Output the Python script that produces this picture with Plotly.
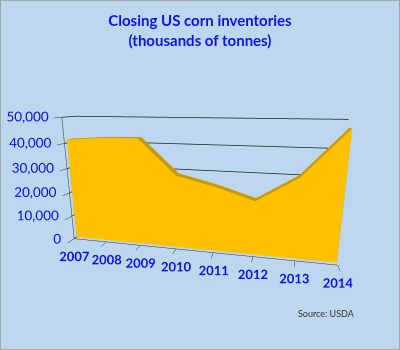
import plotly.graph_objects as go

years = [2007, 2008, 2009, 2010, 2011, 2012, 2013, 2014]
stocks = [41300, 42300, 42600, 29000, 25500, 21000, 30500, 47500]
z_ticks = [0, 10000, 20000, 30000, 40000, 50000]
z_tick_text = ["0", "10,000", "20,000", "30,000", "40,000", "50,000"]
year_text = [str(y) for y in years]
title_text = "Closing US corn inventories<br>(thousands of tonnes)"
source_text = "Source: USDA"

Y0, Y1 = 0.2, 0.65  # slab depth (front, back)

xs, ys, zs = [], [], []
for yr, v in zip(years, stocks):
    xs += [yr, yr, yr, yr]
    ys += [Y0, Y0, Y1, Y1]
    zs += [0, v, 0, v]
I, J, K, C = [], [], [], []
FRONT, TOP, SIDE = "#FFC000", "#C89800", "#B88A00"
n = len(years)
for i in range(n - 1):
    a = 4 * i
    b = 4 * (i + 1)
    I += [a, a + 1]; J += [b, b]; K += [a + 1, b + 1]; C += [FRONT, FRONT]
    I += [a + 1, a + 3]; J += [b + 1, b + 1]; K += [a + 3, b + 3]; C += [TOP, TOP]
for i in (0, n - 1):
    a = 4 * i
    I += [a, a + 1]; J += [a + 2, a + 2]; K += [a + 1, a + 3]; C += [SIDE, SIDE]

blue = "#1010F0"
mesh = go.Mesh3d(
    x=xs, y=ys, z=zs, i=I, j=J, k=K, facecolor=C, flatshading=True,
    lighting=dict(ambient=1, diffuse=0, specular=0, roughness=1, fresnel=0),
    hoverinfo="skip", showscale=False,
)
xlab = go.Scatter3d(
    x=years, y=[0] * len(years), z=[0] * len(years), mode="text",
    text=year_text, textposition="bottom center",
    textfont=dict(color=blue, size=13, family="Lato", weight="bold"),
    hoverinfo="skip", showlegend=False,
)
zlab = go.Scatter3d(
    x=[years[0]] * len(z_ticks), y=[0] * len(z_ticks), z=z_ticks, mode="text",
    text=z_tick_text, textposition="middle left",
    textfont=dict(color=blue, size=13.5, family="Lato"),
    hoverinfo="skip", showlegend=False,
)

fig = go.Figure([mesh, xlab, zlab])
fig.update_layout(
    width=400, height=350,
    paper_bgcolor="#BDD7EE",
    margin=dict(l=0, r=0, t=0, b=0),
    title=dict(text=title_text, x=0.5, y=0.925, xanchor="center", yanchor="middle",
               font=dict(family="Lato", size=15, color=blue, weight="bold")),
    font=dict(family="Lato"),
    scene=dict(
        domain=dict(x=[0.0, 1.0], y=[0.08, 0.86]),
        aspectmode="manual",
        aspectratio=dict(x=2.6, y=0.22, z=1.25),
        camera=dict(eye=dict(x=0.7, y=-2.95, z=0.78), center=dict(x=0.03, y=0, z=0.0),
                    up=dict(x=0, y=0, z=1)),
        xaxis=dict(title="", range=[2007, 2014], tickvals=years, showticklabels=False,
                   showgrid=False, showbackground=False, showline=True, linecolor="#333",
                   ticks="outside", ticklen=4, tickcolor="#333",
                   showspikes=False, zeroline=False),
        yaxis=dict(title="", range=[0, 1], showticklabels=False, showgrid=False,
                   showbackground=False, showline=False, showspikes=False, zeroline=False),
        zaxis=dict(title="", range=[0, 50000], tickvals=z_ticks, showticklabels=False,
                   showgrid=True, gridcolor="#222", gridwidth=1.5,
                   showbackground=False, showline=True, linecolor="#333",
                   ticks="outside", ticklen=4, tickcolor="#333",
                   showspikes=False, zeroline=False),
    ),
    annotations=[dict(text=source_text, x=0.8925, y=0.103, xref="paper", yref="paper",
                      showarrow=False, xanchor="right", yanchor="middle",
                      font=dict(size=9, color="#333", family="Lato"))],
    shapes=[dict(type="rect", xref="paper", yref="paper", x0=0, y0=0, x1=1, y1=1,
                 line=dict(color="#A6A6A6", width=2), fillcolor="rgba(0,0,0,0)")],
)
fig.write_html("out.html")
